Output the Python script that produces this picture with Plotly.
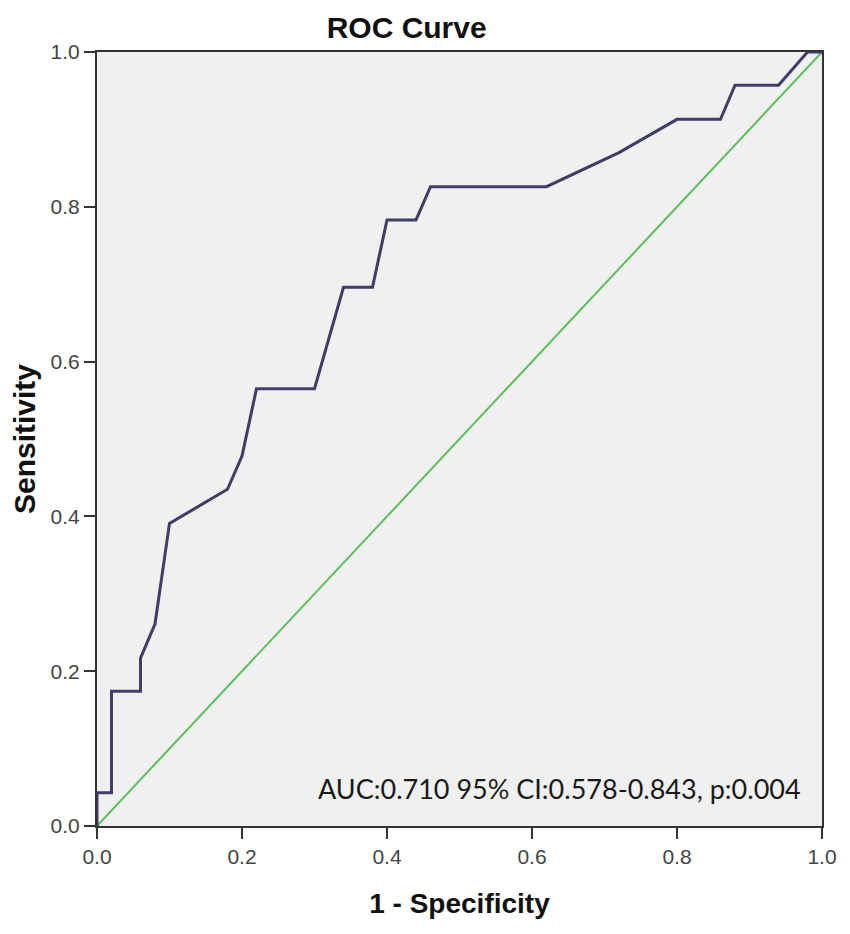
import plotly.graph_objects as go

# ROC curve points (1 - specificity, sensitivity)
fpr = [0.0, 0.0, 0.02, 0.02, 0.06, 0.06, 0.08, 0.10, 0.18, 0.20, 0.22, 0.30,
       0.34, 0.38, 0.40, 0.44, 0.46, 0.62, 0.72, 0.80, 0.86, 0.88, 0.94, 0.98, 1.0]
tpr = [0.0, 0.043, 0.043, 0.174, 0.174, 0.217, 0.261, 0.391, 0.435, 0.478, 0.565, 0.565,
       0.696, 0.696, 0.783, 0.783, 0.826, 0.826, 0.870, 0.913, 0.913, 0.957, 0.957, 1.0, 1.0]

ref_x = [0.0, 1.0]
ref_y = [0.0, 1.0]

tick_vals = [0.0, 0.2, 0.4, 0.6, 0.8, 1.0]
tick_text = ["0.0", "0.2", "0.4", "0.6", "0.8", "1.0"]

annotation_text = "AUC:0.710 95% CI:0.578-0.843, p:0.004"

fig = go.Figure()
fig.add_trace(go.Scatter(x=ref_x, y=ref_y, mode="lines",
                         line=dict(color="#5cbf5c", width=2), showlegend=False))
fig.add_trace(go.Scatter(x=fpr, y=tpr, mode="lines",
                         line=dict(color="#3e3e66", width=3), showlegend=False))

fig.add_annotation(x=0.302, y=0.049, xref="x", yref="y", text=annotation_text,
                   showarrow=False, xanchor="left", yanchor="middle",
                   font=dict(family="Lato", size=27, color="#1a1a1a"))

axis_common = dict(range=[0, 1], tickvals=tick_vals, ticktext=tick_text,
                   showgrid=False, zeroline=False, showline=True, linecolor="#333333",
                   linewidth=2, ticks="outside", ticklen=11, tickwidth=2, tickcolor="#333333",
                   tickfont=dict(family="Liberation Sans", size=21, color="#444444"),
                   mirror=True)

fig.update_layout(
    width=850, height=934,
    margin=dict(l=89, r=36, t=44, b=116),
    paper_bgcolor="white", plot_bgcolor="#f0f0f0",
    title=dict(text="<b>ROC Curve</b>", x=0.469, xanchor="center", y=0.9786, yanchor="middle",
               font=dict(family="Liberation Sans", size=30, color="#111111")),
    xaxis=dict(**axis_common,
               title=dict(text="<b>1 - Specificity</b>", standoff=26,
                          font=dict(family="Liberation Sans", size=28, color="#111111"))),
    yaxis=dict(**axis_common,
               title=dict(text="<b>Sensitivity</b>", standoff=10,
                          font=dict(family="Liberation Sans", size=30, color="#111111"))),
)

fig.write_html("out.html")
